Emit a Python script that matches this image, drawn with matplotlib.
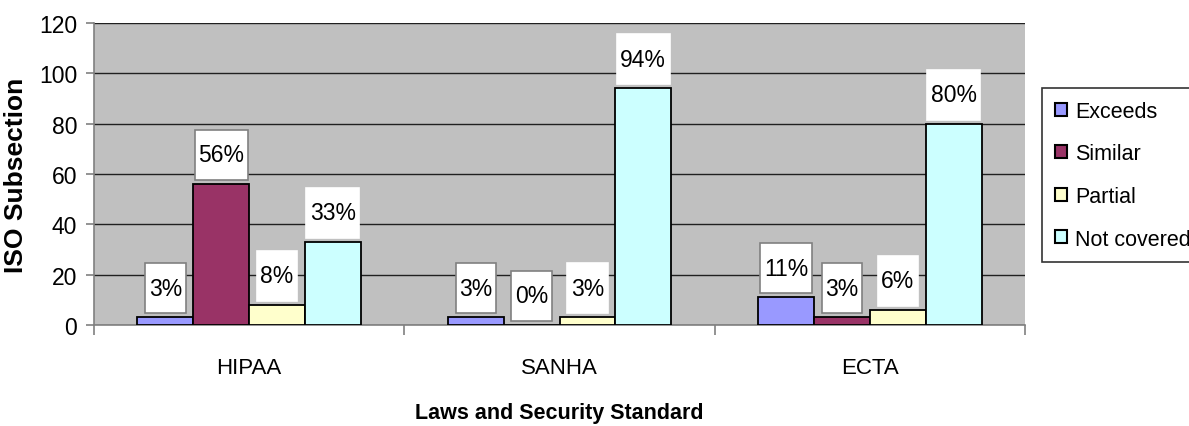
import matplotlib
matplotlib.use("Agg")
import matplotlib.pyplot as plt
import numpy as np
from matplotlib import font_manager
from matplotlib.path import Path

categories = ["HIPAA", "SANHA", "ECTA"]
series = ["Exceeds", "Similar", "Partial", "Not covered"]
exceeds = [3, 3, 11]
similar = [56, 0, 3]
partial = [8, 3, 6]
not_covered = [33, 94, 80]
labels = [["3%", "3%", "11%"],
          ["56%", "0%", "3%"],
          ["8%", "3%", "6%"],
          ["33%", "94%", "80%"]]

colors = ["#9999FF", "#993366", "#FFFFCC", "#CCFFFF"]
box_edges = ["#808080", "#808080", "white", "white"]

names = {f.name for f in font_manager.fontManager.ttflist}
base = "Liberation Sans" if "Liberation Sans" in names else "DejaVu Sans"
plt.rcParams["font.family"] = [base, "DejaVu Sans"]


def label_box(x0, y0, width, height, mutation_size):
    # wide vertical padding, tight horizontal padding (Excel style)
    px, py = 3.5, 13.5
    x0, x1 = x0 - px, x0 + width + px
    y0, y1 = y0 - py, y0 + height + py
    return Path([(x0, y0), (x1, y0), (x1, y1), (x0, y1), (x0, y0)], closed=True)


fig = plt.figure(figsize=(11.89, 4.27), dpi=100)
ax = fig.add_axes([94 / 1189, 101 / 427, 931 / 1189, 302 / 427])
ax.set_facecolor("#C0C0C0")

x = np.arange(len(categories))
w = 0.18
data = [exceeds, similar, partial, not_covered]
for i, (vals, name) in enumerate(zip(data, series)):
    pos = x + (i - 1.5) * w
    ax.bar(pos, vals, w, color=colors[i], edgecolor="black", linewidth=1.3,
           label=name, zorder=3)
    for px_, v, lab in zip(pos, vals, labels[i]):
        ax.annotate(lab, (px_, v), xytext=(0, 21), textcoords="offset points",
                    ha="center", va="center", fontsize=16.5, zorder=5,
                    bbox=dict(boxstyle=label_box, fc="white", ec=box_edges[i], lw=1.2))

ax.set_xlim(-0.5, 2.5)
ax.set_ylim(0, 120)
ax.set_yticks(range(0, 121, 20))
ax.yaxis.grid(True, color="#202020", linewidth=1)
ax.set_axisbelow(True)

ax.set_xticks(x)
ax.set_xticklabels(categories, fontsize=16)
ax.set_xticks([-0.5, 0.5, 1.5, 2.5], minor=True)
ax.tick_params(axis="x", which="major", length=0, pad=23)
ax.tick_params(axis="x", which="minor", length=7, color="#808080", width=1.2)
ax.tick_params(axis="y", length=6, color="#808080", width=1.2, labelsize=16.5, pad=6)

for s in ["top", "right"]:
    ax.spines[s].set_visible(False)
for s in ["left", "bottom"]:
    ax.spines[s].set_color("#808080")
    ax.spines[s].set_linewidth(1.2)

ax.set_ylabel("ISO Subsection", fontsize=19, fontweight="bold", labelpad=8)
ax.set_xlabel("Laws and Security Standard", fontsize=15.5, fontweight="bold",
              labelpad=17)

leg = ax.legend(loc="upper left", bbox_to_anchor=(1042 / 1189, 1 - 89 / 427),
                bbox_transform=fig.transFigure, fontsize=15.5, frameon=True,
                fancybox=False, borderaxespad=0, handlelength=0.55,
                handleheight=0.55, handletextpad=0.4, labelspacing=1.0,
                borderpad=0.6)
leg.get_frame().set_edgecolor("black")
leg.get_frame().set_linewidth(1.2)
for h in leg.legend_handles:
    h.set_edgecolor("black")
    h.set_linewidth(1.5)

fig.savefig("out.png", dpi=100)
